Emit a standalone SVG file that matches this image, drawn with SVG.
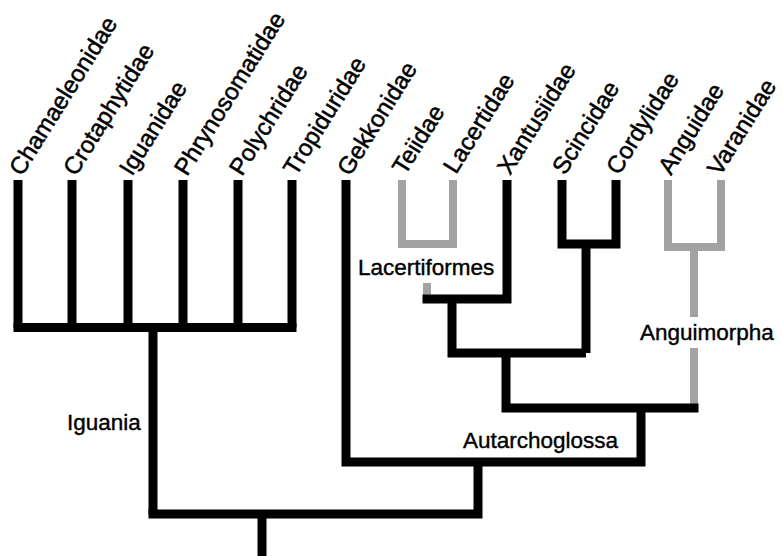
<svg xmlns="http://www.w3.org/2000/svg" width="782" height="556" viewBox="0 0 782 556">
<style>
  .bg { fill: #ffffff; }
  .taxon { font-family: "Liberation Sans", Arial, sans-serif; font-size: 24px; fill: #000; stroke: #000; stroke-width: 0.5; }
  .clade { font-family: "Liberation Sans", Arial, sans-serif; font-size: 22.5px; fill: #000; stroke: #000; stroke-width: 0.4; }
  .blk { fill: none; stroke: #000; stroke-width: 9; stroke-linejoin: miter; stroke-linecap: butt; }
  .gry { fill: none; stroke: #a2a2a2; stroke-width: 8; stroke-linejoin: miter; stroke-linecap: butt; }
</style>
<rect class="bg" x="0" y="0" width="782" height="556"/>

<g id="connectors">
  <!-- Iguania comb -->
  <path class="blk" d="M18 180 V327.5 M72 180 V327.5 M128 180 V327.5 M183 180 V327.5 M238 180 V327.5 M292 180 V327.5"/>
  <path class="blk" d="M13.5 327.5 H296.5"/>
  <path class="blk" d="M153 327.5 V514"/>
  <!-- Gekkonidae -->
  <path class="blk" d="M346 180 V462 H641 V408"/>
  <!-- Teiidae + Lacertidae (grey) -->
  <path class="gry" d="M402 180 V244 H453 V180"/>
  <path class="gry" d="M427 283 V296"/>
  <!-- Lacertiformes + Xantusiidae -->
  <path class="blk" d="M422.5 299 H507 V180"/>
  <path class="blk" d="M452 299 V353 H586"/>
  <!-- Scincidae + Cordylidae -->
  <path class="blk" d="M562 180 V244 H616 V180"/>
  <path class="blk" d="M586 244 V353"/>
  <!-- Anguidae + Varanidae (grey) -->
  <path class="gry" d="M668 180 V247 H721 V180"/>
  <path class="gry" d="M694 247 V317 M694 348 V405"/>
  <!-- Scincomorpha + Anguimorpha -->
  <path class="blk" d="M506 353 V408 H698.5"/>
  <!-- Root -->
  <path class="blk" d="M478 462 V514 H148.5"/>
  <path class="blk" d="M262 514 V556"/>
</g>

<g id="Chamaeleonidae"><text class="taxon" transform="translate(22,177) rotate(-58)">Chamaeleonidae</text></g>
<g id="Crotaphytidae"><text class="taxon" transform="translate(76,177) rotate(-58)">Crotaphytidae</text></g>
<g id="Iguanidae"><text class="taxon" transform="translate(132,177) rotate(-58)">Iguanidae</text></g>
<g id="Phrynosomatidae"><text class="taxon" transform="translate(187,177) rotate(-58)">Phrynosomatidae</text></g>
<g id="Polychridae"><text class="taxon" transform="translate(242,177) rotate(-58)">Polychridae</text></g>
<g id="Tropiduridae"><text class="taxon" transform="translate(296,177) rotate(-58)">Tropiduridae</text></g>
<g id="Gekkonidae"><text class="taxon" transform="translate(350,177) rotate(-58)">Gekkonidae</text></g>
<g id="Teiidae"><text class="taxon" transform="translate(405,176) rotate(-58)">Teiidae</text></g>
<g id="Lacertidae"><text class="taxon" transform="translate(456,175) rotate(-58)">Lacertidae</text></g>
<g id="Xantusiidae"><text class="taxon" transform="translate(510,176) rotate(-58)">Xantusiidae</text></g>
<g id="Scincidae"><text class="taxon" transform="translate(565,176) rotate(-58)">Scincidae</text></g>
<g id="Cordylidae"><text class="taxon" transform="translate(619,176) rotate(-58)">Cordylidae</text></g>
<g id="Anguidae"><text class="taxon" transform="translate(671,176) rotate(-58)">Anguidae</text></g>
<g id="Varanidae"><text class="taxon" transform="translate(720,177) rotate(-58)">Varanidae</text></g>

<g id="Iguania"><text class="clade" x="67" y="430">Iguania</text></g>
<g id="Lacertiformes"><text class="clade" x="358" y="275">Lacertiformes</text></g>
<g id="Anguimorpha"><text class="clade" x="640" y="340">Anguimorpha</text></g>
<g id="Autarchoglossa"><text class="clade" x="463" y="448">Autarchoglossa</text></g>
</svg>
